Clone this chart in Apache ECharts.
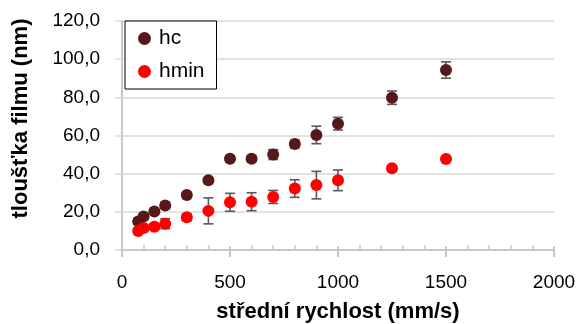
<!DOCTYPE html>
<html>
<head>
<meta charset="utf-8">
<script src="https://cdn.jsdelivr.net/npm/echarts@6/dist/echarts.min.js"></script>
<style>
  html, body { margin: 0; padding: 0; background: #fff; }
  #chart { width: 580px; height: 324px; }
</style>
</head>
<body>
<div id="chart"></div>
<script>
// mean speed (mm/s)
const speeds = [75, 100, 150, 200, 300, 400, 500, 600, 700, 800, 900, 1000, 1250, 1500]
// central film thickness hc (nm) and its error
const hcValues = [15.0, 17.5, 20.2, 23.3, 28.8, 36.5, 47.8, 47.8, 50.0, 55.5, 60.3, 66.2, 79.8, 94.3]
const hcErrors = [1.2, 1.2, 1.2, 1.5, 1.5, 1.0, 1.5, 1.5, 2.6, 2.0, 4.6, 3.3, 3.5, 4.3]
// minimum film thickness hmin (nm) and its error
const hminValues = [10.0, 11.5, 12.2, 13.8, 17.2, 20.5, 25.0, 25.3, 27.8, 32.2, 34.0, 36.5, 42.8, 47.7]
const hminErrors = [1.5, 1.5, 1.5, 2.6, 1.8, 6.8, 4.7, 4.7, 3.4, 4.6, 7.2, 5.4, 1.2, 1.0]

const FONT = 'Liberation Sans'
const HC_COLOR = '#561818'
const HMIN_COLOR = '#ff0000'
const ERR_COLOR = '#595959'

const pts = (vals) => speeds.map((x, i) => [x, vals[i]])
const errs = (vals, e) => speeds.map((x, i) => [x, vals[i] - e[i], vals[i] + e[i]])

// error bar drawn through the axis scales
function renderErr(params, api) {
  const x = api.value(0)
  const lo = api.coord([x, api.value(1)])
  const hi = api.coord([x, api.value(2)])
  const cap = 5
  const st = { stroke: ERR_COLOR, lineWidth: 1.6 }
  return {
    type: 'group',
    children: [
      { type: 'line', shape: { x1: hi[0], y1: hi[1], x2: lo[0], y2: lo[1] }, style: st },
      { type: 'line', shape: { x1: hi[0] - cap, y1: hi[1], x2: hi[0] + cap, y2: hi[1] }, style: st },
      { type: 'line', shape: { x1: lo[0] - cap, y1: lo[1], x2: lo[0] + cap, y2: lo[1] }, style: st }
    ]
  }
}

const chart = echarts.init(document.getElementById('chart'))

const option = {
  animation: false,
  textStyle: { fontFamily: FONT },
  grid: { left: 122, right: 26, top: 21, bottom: 74, outerBoundsMode: 'none' },
  legend: {
    data: ['hc', 'hmin'],
    orient: 'vertical',
    left: 125,
    top: 21,
    backgroundColor: '#fff',
    borderColor: '#000',
    borderWidth: 1,
    padding: [7, 12, 7, 13],
    itemGap: 12,
    itemWidth: 13,
    itemHeight: 13,
    icon: 'circle',
    textStyle: { fontFamily: FONT, fontSize: 21, color: '#000', padding: [0, 0, 0, 3] }
  },
  xAxis: [
    {
      type: 'value',
      min: 0,
      max: 2000,
      interval: 500,
      name: 'střední rychlost (mm/s)',
      nameLocation: 'middle',
      nameGap: 51,
      nameTextStyle: { fontFamily: FONT, fontSize: 22, fontWeight: 'bold', color: '#000' },
      axisLine: { lineStyle: { color: '#c8c8c8', width: 2 } },
      axisTick: { inside: true, length: 4, lineStyle: { color: '#c8c8c8', width: 2 } },
      minorTick: { show: true, splitNumber: 5, length: 5, lineStyle: { color: '#c8c8c8', width: 1.5 } },
      axisLabel: { fontFamily: FONT, fontSize: 19, color: '#000', margin: 23, formatter: (v) => String(v) },
      splitLine: { show: false }
    },
    {
      // outer half of the major ticks
      type: 'value',
      position: 'top',
      offset: -229,
      min: 0,
      max: 2000,
      interval: 500,
      axisLine: { show: false },
      axisTick: { inside: true, length: 7, lineStyle: { color: '#c8c8c8', width: 2 } },
      axisLabel: { show: false },
      splitLine: { show: false }
    }
  ],
  yAxis: {
    type: 'value',
    min: 0,
    max: 120,
    interval: 20,
    name: 'tloušťka filmu (nm)',
    nameLocation: 'middle',
    nameGap: 90,
    nameTextStyle: { fontFamily: FONT, fontSize: 22, fontWeight: 'bold', color: '#000', padding: [0, 0, 0, 34] },
    axisLine: { show: true, lineStyle: { color: '#c8c8c8', width: 2 } },
    axisTick: { show: true, length: 7, lineStyle: { color: '#d9d9d9', width: 1.5 } },
    axisLabel: {
      fontFamily: FONT,
      fontSize: 19,
      color: '#000',
      margin: 22,
      formatter: (v) => v.toFixed(1).replace('.', ',')
    },
    splitLine: { lineStyle: { color: '#d9d9d9', width: 1.5 } }
  },
  series: [
    {
      name: 'hc err',
      type: 'custom',
      renderItem: renderErr,
      data: errs(hcValues, hcErrors),
      encode: { x: 0, y: [1, 2] },
      z: 1
    },
    {
      name: 'hmin err',
      type: 'custom',
      renderItem: renderErr,
      data: errs(hminValues, hminErrors),
      encode: { x: 0, y: [1, 2] },
      z: 1
    },
    {
      name: 'hc',
      type: 'scatter',
      symbol: 'circle',
      symbolSize: 12,
      itemStyle: { color: HC_COLOR, opacity: 1 },
      data: pts(hcValues),
      z: 3
    },
    {
      name: 'hmin',
      type: 'scatter',
      symbol: 'circle',
      symbolSize: 12,
      itemStyle: { color: HMIN_COLOR, opacity: 1 },
      data: pts(hminValues),
      z: 4
    }
  ]
}

chart.setOption(option)
</script>
</body>
</html>
